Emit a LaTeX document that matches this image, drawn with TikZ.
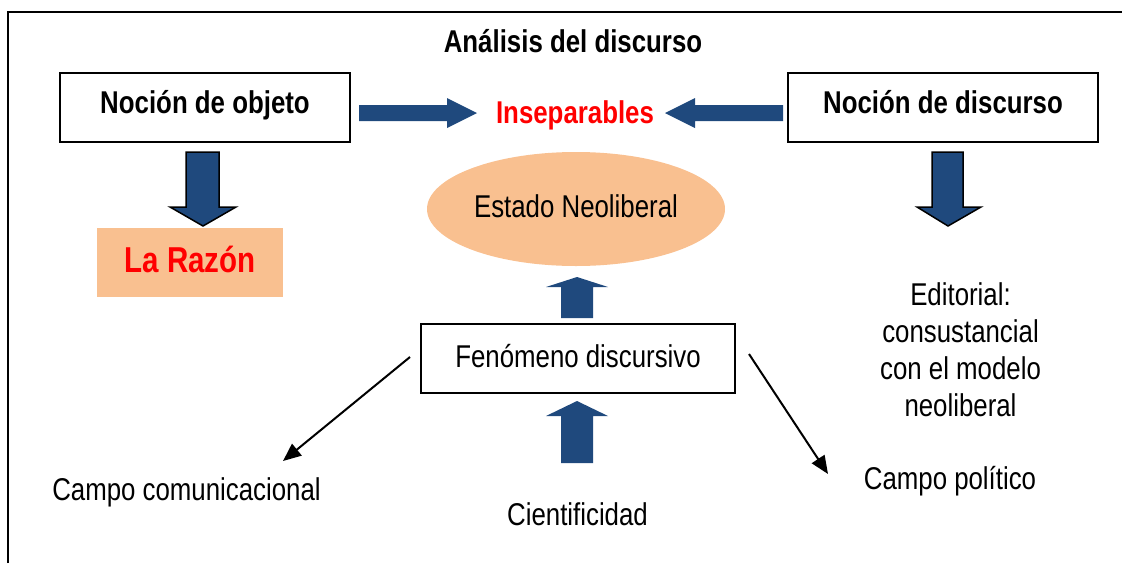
\documentclass[tikz,border=0pt]{standalone}
\usepackage{fontspec}
\setmainfont[FakeStretch=0.82]{Liberation Sans}
\usetikzlibrary{arrows.meta,shapes.geometric}
\definecolor{navy}{RGB}{31,73,125}
\definecolor{peach}{RGB}{249,192,144}
\definecolor{redtxt}{RGB}{255,0,0}
\begin{document}
\begin{tikzpicture}[x=1pt,y=-1pt,
  reg/.style={font=\fontsize{31.5}{37}\selectfont, inner sep=0pt},
  bld/.style={font=\fontsize{31.5}{37}\selectfont\bfseries, inner sep=0pt},
  whitebox/.style={draw=black, line width=2pt, fill=white, inner sep=0pt},
  fatarrow/.style={fill=navy, draw=none},
  fatarrowedge/.style={fill=navy, draw=black, line width=1.5pt, line join=miter},
  thinarrow/.style={draw=black, line width=2pt, -{Triangle[length=18pt,width=15pt]}}
]
\useasboundingbox (0,0) rectangle (1122,563);
% frame
\draw[line width=1.5pt] (8,563) -- (8,12) -- (1122,12);

% title
\node[bld, anchor=base] (title) at (573,52) {Análisis del discurso};

% top boxes
\node[whitebox, bld, minimum width=290pt, minimum height=69pt, text height=20pt, text depth=9pt] (obj) at (205,107.5) {Noción de objeto};
\node[whitebox, bld, minimum width=310pt, minimum height=69pt, text height=20pt, text depth=9pt] (disc) at (943,107.5) {Noción de discurso};
\node[bld, text=redtxt, anchor=base] (insep) at (575,123) {Inseparables};

% horizontal fat arrows
\fill[fatarrow] (359,105) -- (447,105) -- (447,98) -- (477,113) -- (447,128) -- (447,121) -- (359,121) -- cycle;
\fill[fatarrow] (783,105) -- (695,105) -- (695,98) -- (665,113) -- (695,128) -- (695,121) -- (783,121) -- cycle;

% down fat arrows
\filldraw[fatarrowedge] (186,152) -- (219,152) -- (219,207) -- (236,207) -- (203,226) -- (170,207) -- (186,207) -- cycle;
\filldraw[fatarrowedge] (932,152) -- (963,152) -- (963,207) -- (981,207) -- (948,226) -- (917,207) -- (932,207) -- cycle;

% La Razon
\node[fill=peach, draw=none, minimum width=186pt, minimum height=69pt, inner sep=0pt, font=\fontsize{36}{40}\selectfont\bfseries, text=redtxt, text height=24pt, text depth=5pt] (razon) at (190,262.5) {La Razón};

% ellipse
\node[ellipse, fill=peach, draw=none, minimum width=298pt, minimum height=114pt, reg, text height=22pt, text depth=6pt] (estado) at (576,209) {Estado Neoliberal};

% editorial
\node[reg, align=center, anchor=north] (edit) at (960.5,282) {Editorial:\\consustancial\\con el modelo\\neoliberal};

% fenomeno
\node[whitebox, reg, minimum width=314pt, minimum height=69pt, text height=22pt, text depth=5pt] (fen) at (578,358.5) {Fenómeno discursivo};

% up fat arrows
\fill[fatarrow] (561,318) -- (561,287) -- (546,287) -- (577,277) -- (608,287) -- (593,287) -- (593,318) -- cycle;
\fill[fatarrow] (561,463) -- (561,416) -- (546,416) -- (577,401) -- (608,416) -- (593,416) -- (593,463) -- cycle;

% bottom labels
\node[reg, anchor=base] (comu) at (186.5,500) {Campo comunicacional};
\node[reg, anchor=base] (cien) at (577.5,525) {Cientificidad};
\node[reg, anchor=base] (poli) at (950,489) {Campo político};

% thin arrows
\coordinate (l1) at (410,357);
\coordinate (l2) at (283,461);
\coordinate (r1) at (749,354);
\coordinate (r2) at (828,474);
\draw[thinarrow] (l1) -- (l2);
\draw[thinarrow] (r1) -- (r2);
\end{tikzpicture}
\end{document}
